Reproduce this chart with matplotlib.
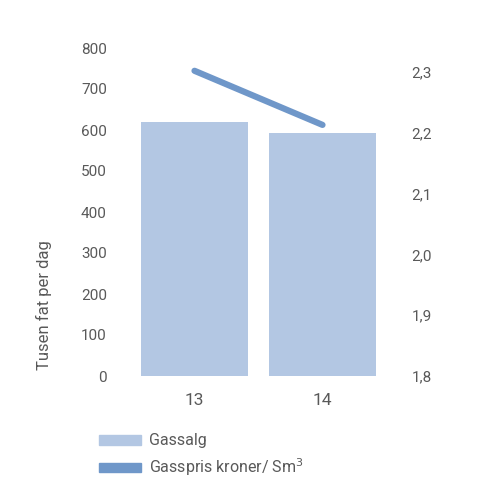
import matplotlib.pyplot as plt
from matplotlib.patches import Patch
from matplotlib.ticker import FuncFormatter

years = ["13", "14"]
gassalg = [619, 592]
gasspris = [2.302, 2.213]

left_ticks = [0, 100, 200, 300, 400, 500, 600, 700, 800]
right_ticks = [1.8, 1.9, 2.0, 2.1, 2.2, 2.3]

bar_color = "#b3c7e3"
line_color = "#6f97c9"
text_color = "#595959"

plt.rcParams["font.family"] = ["Roboto", "DejaVu Sans"]

fig = plt.figure(figsize=(5, 5), dpi=100)
ax = fig.add_axes([0.261, 0.248, 0.512, 0.656])
x = list(range(len(years)))

ax.bar(x, gassalg, width=0.836, color=bar_color, zorder=2)
ax.set_xlim(-0.5, 1.5)
ax.set_ylim(0, 800)
ax.set_yticks(left_ticks)
ax.set_xticks(x)
ax.set_xticklabels(years)

ax2 = ax.twinx()
ax2.plot(x, gasspris, color=line_color, linewidth=4.5,
         solid_capstyle="round", zorder=3)
ax2.set_ylim(1.8, 1.8 + 328 / 608)
ax2.set_yticks(right_ticks)
ax2.yaxis.set_major_formatter(FuncFormatter(lambda v, p: f"{v:.1f}".replace(".", ",")))

for a in (ax, ax2):
    for s in a.spines.values():
        s.set_visible(False)
    a.tick_params(length=0, labelsize=11, colors=text_color)
ax.tick_params(axis="y", pad=17)
ax.tick_params(axis="x", pad=12, labelsize=12.5)
ax2.tick_params(axis="y", pad=18)

fig.text(0.088, 0.39, "Tusen fat per dag", rotation=90, ha="center",
         va="center", fontsize=12, color=text_color)

handles = [Patch(color=bar_color, label="Gassalg"),
           Patch(color=line_color, label="Gasspris kroner/ Sm$^3$")]
leg = fig.legend(handles=handles, loc="upper left", bbox_to_anchor=(0.17, 0.162),
                 frameon=False, fontsize=11.5, handlelength=2.6, handleheight=0.55,
                 handletextpad=0.5, labelspacing=0.5)
for t in leg.get_texts():
    t.set_color(text_color)

fig.savefig("out.png")
